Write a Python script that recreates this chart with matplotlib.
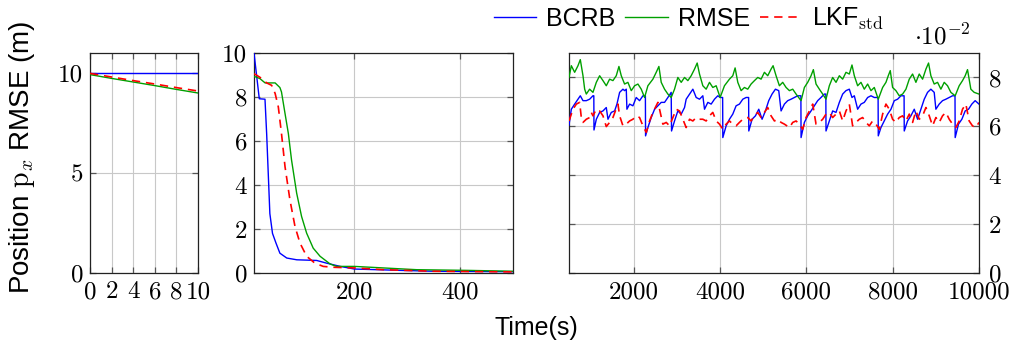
import matplotlib
matplotlib.use("Agg")
import matplotlib.pyplot as plt
from matplotlib.lines import Line2D

plt.rcParams["mathtext.fontset"] = "cm"
plt.rcParams["axes.unicode_minus"] = True

# ---------------- data ----------------
# Initial phase, t = 0..10 s
init_t = [0, 2, 4, 6, 8, 10]
init_bcrb = [10.0, 10.0, 10.0, 10.0, 10.0, 10.0]
init_rmse = [9.92, 9.73, 9.55, 9.37, 9.18, 9.0]
init_lkf = [9.98, 9.80, 9.62, 9.45, 9.27, 9.1]

# Convergence phase, t = 10..500 s
conv_bcrb_t = [10, 20, 30.8, 34, 37, 40, 45, 51.6, 59, 72, 91, 128.6, 147, 173, 200, 286, 349, 500]
conv_bcrb = [10, 7.92, 7.9, 6.3, 4.5, 2.7, 1.8, 1.36, 0.9, 0.68, 0.6, 0.57, 0.45, 0.30, 0.18, 0.12, 0.08, 0.06]
conv_rmse_t = [10, 21, 31, 50, 59, 62, 68.7, 75, 81, 90.7, 100, 109.6, 122, 135, 154, 166, 200, 255, 318, 412, 500]
conv_rmse = [8.94, 8.84, 8.64, 8.64, 8.43, 8.23, 7.25, 6.34, 5.14, 3.63, 2.57, 1.81, 1.13, 0.76, 0.41, 0.30, 0.30, 0.23, 0.15, 0.12, 0.08]
conv_lkf_t = [10, 21, 34, 43.4, 50, 56, 62, 68.7, 78, 87.6, 97, 109.6, 125, 141, 160, 200, 255, 349, 500]
conv_lkf = [9.06, 8.9, 8.64, 8.53, 8.16, 7.55, 6.34, 4.83, 3.32, 2.11, 1.36, 0.76, 0.45, 0.30, 0.26, 0.23, 0.15, 0.08, 0.05]

# Steady state, t = 500..10000 s, values in units of 1e-2 m
ss_rmse_t = [500, 554, 631, 708, 762, 824, 863, 901, 978, 1055, 1133, 1210, 1287, 1364, 1441, 1518,
             1595, 1657, 1711, 1788, 1865, 1943, 2020, 2097, 2174, 2251, 2328, 2444, 2521, 2583, 2637,
             2714, 2791, 2868, 2945, 3022, 3100, 3177, 3254, 3331, 3408, 3470, 3524, 3601, 3678, 3755,
             3832, 3910, 4002, 4102, 4218, 4295, 4349, 4411, 4488, 4565, 4642, 4719, 4797, 4874, 4951,
             5028, 5105, 5182, 5229, 5298, 5375, 5452, 5530, 5607, 5684, 5761, 5877, 5954, 6031, 6108,
             6162, 6224, 6301, 6378, 6455, 6532, 6609, 6687, 6764, 6841, 6918, 6995, 7057, 7111, 7188,
             7265, 7342, 7420, 7497, 7574, 7666, 7767, 7844, 7898, 7944, 7998, 8075, 8152, 8230, 8307,
             8384, 8461, 8538, 8615, 8693, 8770, 8831, 8885, 8962, 9040, 9117, 9194, 9271, 9348, 9448,
             9541, 9618, 9680, 9734, 9811, 9888, 10000]
ss_rmse = [8.00, 8.48, 8.21, 8.48, 8.73, 8.07, 7.52, 7.32, 7.52, 7.39, 7.80, 8.07, 7.87, 7.66, 7.93, 7.87,
           8.07, 8.45, 8.07, 7.73, 7.80, 7.46, 7.66, 7.73, 7.52, 7.18, 7.66, 7.93, 8.21, 8.45, 7.80,
           7.52, 7.32, 7.18, 7.52, 8.00, 7.80, 8.00, 7.87, 8.07, 8.34, 8.59, 8.14, 7.66, 7.52, 7.80,
           7.59, 7.66, 7.18, 7.66, 7.93, 8.07, 8.39, 7.80, 7.46, 7.59, 7.52, 7.73, 7.87, 8.00, 7.93,
           8.21, 8.07, 8.34, 8.48, 8.07, 7.66, 7.80, 7.59, 7.46, 7.52, 7.32, 7.05, 7.59, 7.80, 8.07,
           8.32, 7.73, 7.52, 7.32, 7.11, 7.66, 8.00, 7.80, 8.07, 7.93, 8.21, 8.14, 8.51, 8.07, 7.66,
           7.80, 7.52, 7.73, 7.46, 7.59, 7.11, 7.59, 7.80, 8.07, 8.28, 7.59, 7.46, 7.25, 7.32, 7.52,
           7.93, 8.14, 7.80, 8.14, 7.93, 8.34, 8.59, 8.07, 7.73, 7.80, 7.52, 7.80, 7.66, 7.39, 7.25,
           7.66, 7.87, 8.07, 8.32, 7.52, 7.39, 7.32]

ss_bcrb_t = [500, 554, 631, 708, 762, 824, 901, 978, 1055, 1075, 1079, 1133, 1210, 1287, 1364, 1403,
             1480, 1557, 1611, 1673, 1750, 1788, 1827, 1842, 1904, 1981, 2058, 2135, 2213, 2270, 2274,
             2328, 2405, 2483, 2560, 2637, 2714, 2791, 2868, 2876, 2945, 3022, 3100, 3177, 3215, 3293,
             3370, 3447, 3524, 3601, 3640, 3717, 3794, 3871, 3948, 4002, 4060, 4064, 4141, 4218, 4295,
             4372, 4449, 4527, 4604, 4662, 4666, 4742, 4820, 4897, 4974, 5051, 5128, 5205, 5283, 5360,
             5414, 5491, 5568, 5645, 5722, 5800, 5873, 5877, 5954, 6031, 6108, 6185, 6262, 6339, 6417,
             6451, 6455, 6532, 6609, 6687, 6764, 6841, 6918, 6995, 7057, 7111, 7188, 7265, 7342, 7420,
             7497, 7574, 7662, 7666, 7728, 7805, 7883, 7960, 8037, 8114, 8191, 8264, 8268, 8345, 8422,
             8500, 8577, 8654, 8731, 8808, 8885, 8962, 9001, 9078, 9155, 9232, 9310, 9387, 9444, 9448,
             9525, 9603, 9680, 9757, 9834, 9911, 10000]
ss_bcrb = [6.05, 6.70, 6.91, 7.11, 7.25, 7.05, 7.05, 7.11, 7.25, 7.25, 5.85, 6.29, 6.57, 6.63, 6.77, 6.29,
           6.57, 6.63, 6.91, 7.39, 7.52, 7.46, 7.52, 6.70, 6.91, 6.84, 7.18, 7.05, 7.25, 7.25, 5.61,
           5.95, 6.36, 6.70, 6.84, 6.98, 6.98, 7.18, 7.39, 5.81, 6.22, 6.63, 6.50, 6.77, 7.11, 7.32,
           7.52, 7.18, 7.11, 7.25, 6.70, 6.98, 6.91, 7.11, 7.25, 7.18, 7.18, 5.54, 6.02, 6.29, 6.50,
           6.84, 6.91, 7.11, 7.18, 7.18, 5.81, 6.29, 6.43, 6.70, 6.29, 6.63, 7.05, 7.32, 7.52, 7.46,
           6.63, 6.91, 7.05, 7.11, 7.18, 7.25, 7.25, 5.54, 6.16, 6.43, 6.63, 6.84, 7.05, 7.18, 7.32,
           7.32, 5.81, 6.22, 6.63, 6.57, 6.98, 7.32, 7.46, 7.52, 7.18, 7.25, 6.70, 6.91, 6.98, 7.18,
           7.25, 7.18, 7.18, 5.61, 5.95, 6.22, 6.50, 6.70, 7.05, 7.11, 7.25, 7.25, 5.81, 6.22, 6.43,
           6.70, 6.29, 6.70, 7.11, 7.39, 7.52, 7.39, 6.70, 6.91, 7.05, 7.11, 7.18, 7.25, 7.25, 5.54,
           6.09, 6.29, 6.63, 6.70, 6.91, 7.05, 6.91]

ss_lkf_t = [500, 593, 670, 747, 785, 824, 901, 978, 1017, 1055, 1133, 1210, 1287, 1364, 1441, 1518,
            1634, 1673, 1750, 1827, 1904, 1981, 2058, 2135, 2213, 2290, 2367, 2444, 2560, 2598, 2675,
            2753, 2830, 2907, 2984, 3061, 3138, 3215, 3293, 3370, 3447, 3524, 3601, 3678, 3755, 3832,
            3910, 3987, 4064, 4141, 4218, 4295, 4372, 4449, 4527, 4642, 4719, 4797, 4874, 4951, 5028,
            5105, 5182, 5260, 5337, 5414, 5491, 5607, 5684, 5761, 5838, 5915, 5992, 6070, 6147, 6224,
            6301, 6378, 6455, 6532, 6609, 6687, 6764, 6841, 6918, 6995, 7072, 7149, 7227, 7304, 7381,
            7458, 7535, 7612, 7690, 7767, 7844, 7921, 7998, 8075, 8152, 8230, 8307, 8384, 8461, 8538,
            8615, 8693, 8770, 8847, 8924, 9001, 9078, 9155, 9232, 9310, 9387, 9464, 9541, 9618, 9695,
            9772, 9849, 9927, 10000]
ss_lkf = [6.22, 6.70, 6.91, 6.98, 6.36, 6.16, 6.29, 6.36, 6.57, 6.43, 6.70, 6.63, 6.43, 5.99, 6.16, 6.36,
          6.91, 6.43, 6.02, 6.09, 6.22, 6.29, 6.43, 6.36, 6.02, 5.75, 6.22, 6.57, 6.98, 6.70, 6.09,
          6.16, 6.02, 6.36, 6.70, 6.63, 6.29, 5.95, 6.29, 6.22, 6.36, 6.29, 6.29, 6.22, 6.43, 6.57,
          6.22, 6.09, 5.88, 6.09, 6.22, 6.09, 6.02, 6.16, 6.29, 6.36, 6.22, 6.43, 6.57, 6.36, 6.57,
          6.77, 6.43, 6.22, 6.29, 6.16, 6.09, 5.95, 6.16, 6.22, 6.09, 5.88, 6.36, 6.63, 6.91, 6.09,
          6.16, 6.29, 6.50, 6.57, 6.36, 6.50, 6.63, 6.22, 6.63, 6.91, 6.02, 6.16, 6.29, 6.36, 6.16,
          6.02, 6.22, 6.09, 5.88, 6.50, 6.91, 6.70, 6.29, 6.16, 6.36, 6.43, 6.22, 6.50, 6.16, 6.63,
          6.29, 6.43, 6.77, 6.43, 6.02, 6.36, 6.16, 6.43, 6.57, 6.29, 6.09, 5.95, 6.22, 6.70, 6.91,
          6.22, 6.02, 5.95, 6.16]

series_labels = ["BCRB", "RMSE", r"LKF$_{\mathrm{std}}$"]

# ---------------- style ----------------
C_BCRB = "#0000ff"
C_RMSE = "#00a000"
C_LKF = "#ff0000"
LW = 1.0
DASH = (5, 3.5)
SANS = "Liberation Sans"
TICK_FONT = "cmr10"
TICK_SIZE = 18

fig = plt.figure(figsize=(10.16, 3.45), dpi=100)

W, H = 1016.0, 345.0
bottom = 1 - 273 / H
height = (273 - 53) / H
ax1 = fig.add_axes([90 / W, bottom, (198 - 90) / W, height])
ax2 = fig.add_axes([254 / W, bottom, (513 - 254) / W, height])
ax3 = fig.add_axes([569 / W, bottom, (979 - 569) / W, height])


def style(ax):
    ax.grid(True, color="#c8c8c8", lw=0.8, zorder=0)
    ax.set_axisbelow(True)
    ax.tick_params(direction="in", length=4, width=0.9, color="#555555",
                   top=True, right=True, labelsize=TICK_SIZE)
    ax.tick_params(axis="x", pad=6)
    ax.tick_params(axis="y", pad=5)
    for s in ax.spines.values():
        s.set_color("#222222")
        s.set_linewidth(0.9)
    for lab in ax.get_xticklabels() + ax.get_yticklabels():
        lab.set_fontfamily(TICK_FONT)


def draw(ax, tb, b, tr, r, tl, l):
    ax.plot(tb, b, color=C_BCRB, lw=LW, zorder=3)
    ax.plot(tr, r, color=C_RMSE, lw=LW, zorder=3)
    ax.plot(tl, l, color=C_LKF, lw=LW * 1.2, dashes=DASH, zorder=4)


draw(ax1, init_t, init_bcrb, init_t, init_rmse, init_t, init_lkf)
ax1.set_xlim(0, 10)
ax1.set_ylim(0, 11)
ax1.set_xticks([0, 2, 4, 6, 8, 10])
ax1.set_yticks([0, 5, 10])
style(ax1)

draw(ax2, conv_bcrb_t, conv_bcrb, conv_rmse_t, conv_rmse, conv_lkf_t, conv_lkf)
ax2.set_xlim(10, 500)
ax2.set_ylim(0, 10)
ax2.set_xticks([200, 400])
ax2.set_yticks([0, 2, 4, 6, 8, 10])
style(ax2)

draw(ax3, ss_bcrb_t, ss_bcrb, ss_rmse_t, ss_rmse, ss_lkf_t, ss_lkf)
ax3.set_xlim(500, 10000)
ax3.set_ylim(0, 9)
ax3.set_xticks([2000, 4000, 6000, 8000, 10000])
ax3.set_yticks([0, 2, 4, 6, 8])
ax3.yaxis.tick_right()
style(ax3)
ax3.tick_params(left=True, labelleft=False, labelright=True)
ax3.tick_params(axis="y", pad=7)
for lab in ax3.get_yticklabels():
    lab.set_fontfamily(TICK_FONT)

fig.text(971 / W, 1 - 37 / H, r"$\cdot 10^{-2}$", ha="right", va="center", fontsize=18)

fig.text(22 / W, 1 - 157 / H, r"Position $\mathrm{p}_x$ RMSE (m)", rotation=90,
         ha="center", va="center", fontsize=20, family=SANS)
fig.text(536 / W, 1 - 328 / H, "Time(s)", ha="center", va="center", fontsize=18, family=SANS)

handles = [Line2D([], [], color=C_BCRB, lw=LW),
           Line2D([], [], color=C_RMSE, lw=LW),
           Line2D([], [], color=C_LKF, lw=LW * 1.2, dashes=DASH)]
fig.legend(handles, series_labels, loc="center", bbox_to_anchor=(689 / W, 1 - 19 / H),
           ncol=3, frameon=False, handlelength=1.7, handletextpad=0.4, columnspacing=0.4,
           prop={"family": SANS, "size": 18}, borderaxespad=0, borderpad=0)

fig.savefig("out.png", dpi=100)
